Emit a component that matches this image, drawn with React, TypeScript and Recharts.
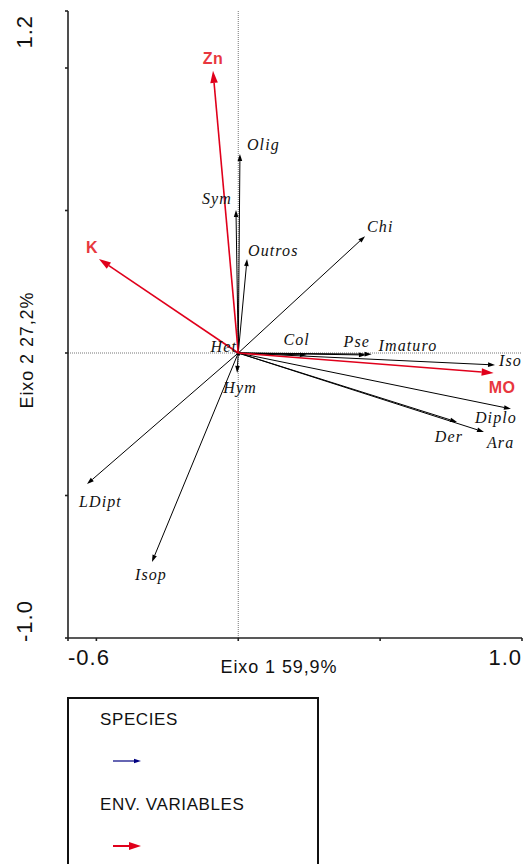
import {
  ScatterChart,
  Scatter,
  XAxis,
  YAxis,
  ReferenceLine,
  Legend,
  Label,
} from 'recharts';

// species scores (arrow tips)
const SPECIES = ['Olig', 'Sym', 'Outros', 'Chi', 'Col', 'Pse', 'Imaturo', 'Iso', 'Diplo', 'Der', 'Ara', 'Het', 'Hym', 'LDipt', 'Isop'];
const SPECIES_X = [0.006, -0.008, 0.031, 0.447, 0.242, 0.45, 0.47, 0.905, 0.961, 0.771, 0.866, -0.015, -0.004, -0.533, -0.304];
const SPECIES_Y = [0.698, 0.502, 0.33, 0.41, -0.007, -0.007, -0.004, -0.042, -0.196, -0.242, -0.277, 0.007, -0.07, -0.46, -0.733];

// environmental variables
const ENV = ['Zn', 'K', 'MO'];
const ENV_X = [-0.089, -0.491, 0.9];
const ENV_Y = [0.99, 0.33, -0.07];

const X_TICKS = [-0.6, -0.5, 0, 0.5, 1.0];
const Y_TICKS = [-1.0, -0.5, 0, 0.5, 1.0, 1.2];
const X_RANGE_LABELS = ['-0.6', '1.0'];
const Y_RANGE_LABELS = ['-1.0', '1.2'];

// where each name sits relative to its arrow tip: dx, dy, anchor
const LABEL_AT: Record<string, [number, number, 'start' | 'middle' | 'end']> = {
  Olig: [7, -4, 'start'],
  Sym: [-4, -6, 'end'],
  Outros: [1, -3, 'start'],
  Chi: [2, -4, 'start'],
  Col: [3, -10, 'end'],
  Pse: [4, -8, 'end'],
  Imaturo: [7, -3, 'start'],
  Iso: [4, 1, 'start'],
  Diplo: [6, 14, 'end'],
  Der: [6, 20, 'end'],
  Ara: [3, 16, 'start'],
  Het: [3, 1, 'end'],
  Hym: [3, 20, 'middle'],
  LDipt: [-8, 23, 'start'],
  Isop: [-1, 18, 'middle'],
  Zn: [0, -7, 'middle'],
  K: [-7, -6, 'middle'],
  MO: [-5, 20, 'start'],
};

const RED = '#e0001b';
const RED_TEXT = '#e8373e';
const AXIS = '#222';

const SP_FONT: React.CSSProperties = {
  fontFamily: '"Liberation Serif", serif',
  fontStyle: 'italic',
  fontSize: 16,
  letterSpacing: 1.1,
  fill: '#111',
};
const ENV_FONT: React.CSSProperties = {
  fontFamily: '"Liberation Sans", Arial, sans-serif',
  fontWeight: 700,
  fontSize: 16,
  letterSpacing: 0.5,
  fill: RED_TEXT,
};
const NUM_FONT: React.CSSProperties = {
  fontFamily: '"Liberation Sans", Arial, sans-serif',
  fontSize: 22,
  letterSpacing: 1,
  fill: '#111',
};
const TITLE_FONT: React.CSSProperties = {
  fontFamily: '"Liberation Sans", Arial, sans-serif',
  fontSize: 18,
  letterSpacing: 0.9,
  fill: '#111',
};

const tips = [
  ...SPECIES.map((name, i) => ({ name, x: SPECIES_X[i], y: SPECIES_Y[i], env: false })),
  ...ENV.map((name, i) => ({ name, x: ENV_X[i], y: ENV_Y[i], env: true })),
];

function arrowShape(color: string, width: number, headLen: number, headHalf: number) {
  return (p: any) => {
    const { x1, y1, x2, y2 } = p;
    const dx = x2 - x1;
    const dy = y2 - y1;
    const len = Math.hypot(dx, dy) || 1;
    const ux = dx / len;
    const uy = dy / len;
    const bx = x2 - ux * headLen;
    const by = y2 - uy * headLen;
    const pts = `${x2},${y2} ${bx - uy * headHalf},${by + ux * headHalf} ${bx + uy * headHalf},${by - ux * headHalf}`;
    return (
      <g>
        <line x1={x1} y1={y1} x2={bx} y2={by} stroke={color} strokeWidth={width} />
        <polygon points={pts} fill={color} />
      </g>
    );
  };
}

const speciesArrow = arrowShape('#000', 1, 7, 2.3);
const envArrow = arrowShape(RED, 1.6, 12, 3.8);

const TipLabel = (props: any) => {
  const { cx, cy, payload } = props;
  const [dx, dy, anchor] = LABEL_AT[payload.name];
  return (
    <text x={cx + dx} y={cy + dy} textAnchor={anchor} style={payload.env ? ENV_FONT : SP_FONT}>
      {payload.name}
    </text>
  );
};

const XTick = (p: any) => {
  const v = p.payload.value;
  if (v !== -0.6 && v !== 1.0) return <g />;
  const first = v < 0;
  return (
    <text x={p.x} y={p.y + 22} textAnchor={first ? 'start' : 'end'} style={NUM_FONT}>
      {X_RANGE_LABELS[first ? 0 : 1]}
    </text>
  );
};

const YTick = (p: any) => {
  const v = p.payload.value;
  if (v !== -1.0 && v !== 1.2) return <g />;
  const low = v < 0;
  const tx = p.x - 31;
  const ty = p.y + 4;
  return (
    <text
      x={tx}
      y={ty}
      textAnchor={low ? 'start' : 'end'}
      transform={`rotate(-90, ${tx}, ${ty})`}
      style={NUM_FONT}
    >
      {Y_RANGE_LABELS[low ? 0 : 1]}
    </text>
  );
};

const LegendBox = () => {
  const sp = arrowShape('#000080', 1.2, 7, 2.2);
  const ev = arrowShape(RED, 2, 12, 4);
  const txt: React.CSSProperties = {
    fontFamily: '"Liberation Sans", Arial, sans-serif',
    fontSize: 17,
    letterSpacing: 0.6,
    fill: '#111',
  };
  return (
    <svg width={252} height={180} style={{ display: 'block' }}>
      <rect x={1} y={1} width={250} height={200} fill="none" stroke="#111" strokeWidth={2} />
      <text x={33} y={28} style={txt}>SPECIES</text>
      {sp({ x1: 46, y1: 64, x2: 74, y2: 64 })}
      <text x={33} y={113} style={txt}>ENV. VARIABLES</text>
      {ev({ x1: 46, y1: 149, x2: 74, y2: 149 })}
    </svg>
  );
};

export default function App() {
  return (
    <div style={{ position: 'absolute', left: 0, top: 0, background: '#fff' }}>
      <ScatterChart width={523} height={864} margin={{ top: 11, right: 1, left: 8, bottom: 186 }}>
        <XAxis
          type="number"
          dataKey="x"
          domain={[-0.6, 1.0]}
          ticks={X_TICKS}
          allowDataOverflow
          height={40}
          stroke={AXIS}
          strokeWidth={1.6}
          tickSize={3}
          tick={<XTick />}
          interval={0}
        >
          <Label
            content={(p: any) => (
              <text x={p.viewBox.x + 211} y={p.viewBox.y + 35} textAnchor="middle" style={TITLE_FONT}>
                Eixo 1 59,9%
              </text>
            )}
          />
        </XAxis>
        <XAxis
          xAxisId="top"
          orientation="top"
          type="number"
          domain={[-0.6, 1.0]}
          allowDataOverflow
          height={0}
          tick={false}
          tickLine={false}
          stroke={AXIS}
          strokeWidth={1.6}
        />
        <YAxis
          type="number"
          dataKey="y"
          domain={[-1.0, 1.2]}
          ticks={Y_TICKS}
          allowDataOverflow
          width={60}
          stroke={AXIS}
          strokeWidth={1.6}
          tickSize={3}
          tick={<YTick />}
          interval={0}
        >
          <Label
            content={(p: any) => {
              const tx = p.viewBox.x + 25;
              const ty = p.viewBox.y + 339;
              return (
                <text x={tx} y={ty} textAnchor="middle" transform={`rotate(-90, ${tx}, ${ty})`} style={TITLE_FONT}>
                  Eixo 2 27,2%
                </text>
              );
            }}
          />
        </YAxis>
        <ReferenceLine x={0} stroke="#777" strokeDasharray="1 1" />
        <ReferenceLine y={0} stroke="#777" strokeDasharray="1 1" />
        {SPECIES.map((name, i) => (
          <ReferenceLine
            key={name}
            segment={[{ x: 0, y: 0 }, { x: SPECIES_X[i], y: SPECIES_Y[i] }]}
            shape={speciesArrow}
          />
        ))}
        {ENV.map((name, i) => (
          <ReferenceLine
            key={name}
            segment={[{ x: 0, y: 0 }, { x: ENV_X[i], y: ENV_Y[i] }]}
            shape={envArrow}
          />
        ))}
        <Scatter data={tips} shape={<TipLabel />} isAnimationActive={false} />
        <Legend
          verticalAlign="middle"
          align="center"
          content={() => <LegendBox />}
          wrapperStyle={{ left: 67, top: 697, width: 252, height: 180 }}
        />
      </ScatterChart>
    </div>
  );
}
